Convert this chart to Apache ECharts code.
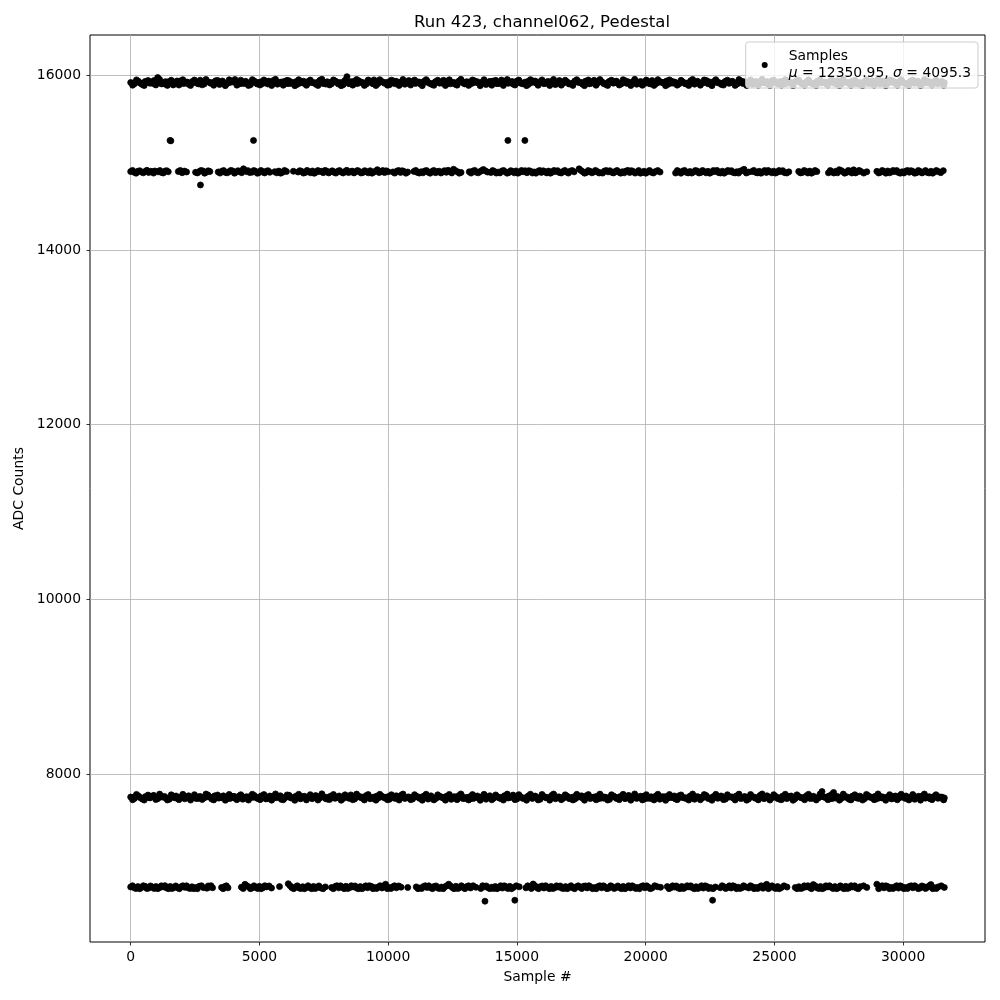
<!DOCTYPE html>
<html>
<head>
<meta charset="utf-8">
<script src="https://cdn.jsdelivr.net/npm/echarts@6/dist/echarts.min.js"></script>
<style>html,body{margin:0;padding:0;background:#fff}#c{width:1000px;height:1000px}</style>
</head>
<body>
<div id="c"></div>
<script>
const titleText = 'Run 423, channel062, Pedestal';
const xTicks = [0, 5000, 10000, 15000, 20000, 25000, 30000];
const yTicks = [8000, 10000, 12000, 14000, 16000];

const topBand = [[0,15918],[150,15905],[300,15932],[450,15896],[600,15925],[750,15910],[900,15940],[1050,15975],[1200,15902],[1350,15928],[1500,15915],[1650,15890],[1800,15936],[1950,15908],[2100,15922],[2250,15898],[2400,15930],[2550,15912],[2700,15945],[2850,15900],[3000,15926],[3150,15914],[3300,15938],[3450,15895],[3600,15920],[3750,15907],[3900,15933],[4050,15952],[4200,15901],[4350,15924],[4500,15911],[4650,15893],[4800,15935],[4950,15918],[5100,15904],[5250,15929],[5400,15916],[5550,15942],[5700,15899],[5850,15923],[6000,15909],[6150,15937],[6300,15913],[6450,15894],[6600,15927],[6750,15906],[6900,15931],[7050,15919],[7200,15897],[7350,15944],[7500,15912],[7650,15925],[7800,15903],[7950,15934],[8100,15917],[8250,15892],[8400,15985],[8550,15928],[8700,15908],[8850,15939],[9000,15914],[9150,15900],[9300,15926],[9450,15948],[9600,15905],[9750,15930],[9900,15916],[10050,15893],[10200,15936],[10350,15911],[10500,15924],[10650,15898],[10800,15940],[10950,15913],[11100,15927],[11250,15902],[11400,15933],[11550,15918],[11700,15896],[11850,15929],[12000,15910],[12150,15943],[12300,15906],[12450,15921],[12600,15899],[12750,15935],[12900,15915],[13050,15928],[13200,15901],[13350,15938],[13500,15912],[13650,15923],[13800,15895],[13950,15932],[14100,15917],[14250,15907],[14400,15946],[14550,15914],[14700,15926],[14850,15900],[15000,15934],[15150,15909],[15300,15921],[15450,15897],[15600,15937],[15750,15913],[15900,15928],[16050,15904],[16200,15931],[16350,15916],[16500,15894],[16650,15941],[16800,15910],[16950,15925],[17100,15903],[17250,15935],[17400,15918],[17550,15899],[17700,15929],[17850,15908],[18000,15944],[18150,15915],[18300,15927],[18450,15896],[18600,15933],[18750,15911],[18900,15922],[19050,15902],[19200,15939],[19350,15914],[19500,15926],[19650,15898],[19800,15930],[19950,15907],[20100,15920],[20250,15940],[20400,15905],[20550,15928],[20700,15913],[20850,15895],[21000,15934],[21150,15917],[21300,15903],[21450,15925],[21600,15910],[21750,15937],[21900,15899],[22050,15923],[22200,15912],[22350,15942],[22500,15906],[22650,15929],[22800,15916],[22950,15894],[23100,15932],[23250,15909],[23400,15924],[23550,15901],[23700,15936],[23850,15914],[24000,15927],[24150,15897],[24300,15931],[24450,15911],[24600,15921],[24750,15904],[24900,15938],[25050,15915],[25200,15928],[25350,15900],[25500,15933],[25650,15908],[25800,15922],[25950,15945],[26100,15903],[26250,15926],[26400,15913],[26550,15896],[26700,15935],[26850,15917],[27000,15905],[27150,15929],[27300,15912],[27450,15939],[27600,15898],[27750,15924],[27900,15910],[28050,15932],[28200,15916],[28350,15893],[28500,15927],[28650,15906],[28800,15937],[28950,15914],[29100,15900],[29250,15925],[29400,15911],[29550,15941],[29700,15903],[29850,15928],[30000,15915],[30150,15897],[30300,15934],[30450,15909],[30600,15922],[30750,15901],[30900,15936],[31050,15913],[31200,15926],[31350,15904],[31500,15930],[31600,15915]];

const topBand2 = [[75,15887],[225,15948],[375,15912],[525,15883],[675,15941],[825,15920],[975,15890],[1125,15952],[1275,15915],[1425,15885],[1575,15944],[1725,15909],[1875,15889],[2025,15950],[2175,15922],[2325,15884],[2475,15946],[2625,15903],[2775,15891],[2925,15953],[3075,15918],[3225,15886],[3375,15942],[3525,15911],[3675,15882],[3825,15949],[3975,15924],[4125,15888],[4275,15945],[4425,15906],[4575,15884],[4725,15951],[4875,15916],[5025,15889],[5175,15947],[5325,15901],[5475,15883],[5625,15954],[5775,15919],[5925,15887],[6075,15943],[6225,15908],[6375,15881],[6525,15950],[6675,15921],[6825,15886],[6975,15946],[7125,15912],[7275,15884],[7425,15955],[7575,15900],[7725,15890],[7875,15948],[8025,15917],[8175,15882],[8325,15944],[8475,15905],[8625,15888],[8775,15952],[8925,15923],[9075,15885],[9225,15947],[9375,15910],[9525,15883],[9675,15950],[9825,15919],[9975,15887],[10125,15945],[10275,15903],[10425,15884],[10575,15953],[10725,15914],[10875,15889],[11025,15946],[11175,15920],[11325,15882],[11475,15951],[11625,15907],[11775,15886],[11925,15944],[12075,15918],[12225,15883],[12375,15949],[12525,15911],[12675,15888],[12825,15954],[12975,15902],[13125,15885],[13275,15947],[13425,15921],[13575,15881],[13725,15950],[13875,15913],[14025,15887],[14175,15943],[14325,15906],[14475,15884],[14625,15952],[14775,15917],[14925,15889],[15075,15946],[15225,15904],[15375,15882],[15525,15951],[15675,15922],[15825,15886],[15975,15948],[16125,15910],[16275,15883],[16425,15953],[16575,15915],[16725,15888],[16875,15944],[17025,15901],[17175,15885],[17325,15950],[17475,15920],[17625,15882],[17775,15947],[17925,15912],[18075,15887],[18225,15952],[18375,15905],[18525,15884],[18675,15945],[18825,15918],[18975,15889],[19125,15950],[19275,15908],[19425,15883],[19575,15954],[19725,15916],[19875,15886],[20025,15946],[20175,15902],[20325,15885],[20475,15951],[20625,15921],[20775,15881],[20925,15948],[21075,15911],[21225,15888],[21375,15943],[21525,15906],[21675,15884],[21825,15953],[21975,15919],[22125,15887],[22275,15947],[22425,15903],[22575,15882],[22725,15950],[22875,15914],[23025,15889],[23175,15945],[23325,15920],[23475,15885],[23625,15952],[23775,15907],[23925,15883],[24075,15948],[24225,15917],[24375,15886],[24525,15954],[24675,15910],[24825,15884],[24975,15946],[25125,15901],[25275,15888],[25425,15951],[25575,15922],[25725,15882],[25875,15944],[26025,15913],[26175,15887],[26325,15950],[26475,15905],[26625,15885],[26775,15953],[26925,15918],[27075,15889],[27225,15947],[27375,15908],[27525,15883],[27675,15952],[27825,15920],[27975,15886],[28125,15945],[28275,15902],[28425,15884],[28575,15949],[28725,15915],[28875,15888],[29025,15954],[29175,15909],[29325,15882],[29475,15946],[29625,15921],[29775,15887],[29925,15951],[30075,15904],[30225,15885],[30375,15948],[30525,15916],[30675,15883],[30825,15953],[30975,15911],[31125,15889],[31275,15945],[31425,15919],[31575,15886]];

const topBand3 = [[112,15912],[262,15925],[412,15905],[562,15930],[712,15918],[862,15908],[1012,15933],[1162,15915],[1312,15902],[1462,15927],[1612,15920],[1762,15910],[1912,15935],[2062,15906],[2212,15922],[2362,15914],[2512,15929],[2662,15903],[2812,15917],[2962,15931],[3112,15909],[3262,15924],[3412,15913],[3562,15936],[3712,15904],[3862,15919],[4012,15928],[4162,15911],[4312,15907],[4462,15932],[4612,15916],[4762,15923],[4912,15901],[5062,15926],[5212,15914],[5362,15934],[5512,15908],[5662,15921],[5812,15912],[5962,15930],[6112,15905],[6262,15918],[6412,15927],[6562,15910],[6712,15933],[6862,15903],[7012,15920],[7162,15915],[7312,15929],[7462,15907],[7612,15924],[7762,15913],[7912,15935],[8062,15902],[8212,15919],[8362,15926],[8512,15911],[8662,15931],[8812,15906],[8962,15922],[9112,15916],[9262,15934],[9412,15904],[9562,15918],[9712,15928],[9862,15909],[10012,15925],[10162,15914],[10312,15932],[10462,15901],[10612,15921],[10762,15912],[10912,15929],[11062,15907],[11212,15923],[11362,15917],[11512,15935],[11662,15905],[11812,15920],[11962,15927],[12112,15910],[12262,15931],[12412,15903],[12562,15919],[12712,15914],[12862,15933],[13012,15908],[13162,15924],[13312,15916],[13462,15928],[13612,15902],[13762,15921],[13912,15911],[14062,15934],[14212,15906],[14362,15918],[14512,15926],[14662,15909],[14812,15930],[14962,15913],[15112,15922],[15262,15904],[15412,15929],[15562,15917],[15712,15935],[15862,15907],[16012,15920],[16162,15912],[16312,15927],[16462,15901],[16612,15924],[16762,15915],[16912,15932],[17062,15905],[17212,15919],[17362,15928],[17512,15910],[17662,15933],[17812,15903],[17962,15921],[18112,15914],[18262,15930],[18412,15908],[18562,15925],[18712,15916],[18862,15934],[19012,15902],[19162,15918],[19312,15927],[19462,15911],[19612,15931],[19762,15906],[19912,15923],[20062,15913],[20212,15929],[20362,15904],[20512,15920],[20662,15917],[20812,15935],[20962,15909],[21112,15924],[21262,15912],[21412,15928],[21562,15901],[21712,15921],[21862,15915],[22012,15932],[22162,15907],[22312,15919],[22462,15926],[22612,15910],[22762,15930],[22912,15905],[23062,15922],[23212,15914],[23362,15933],[23512,15903],[23662,15918],[23812,15927],[23962,15911],[24112,15934],[24262,15908],[24412,15925],[24562,15916],[24712,15929],[24862,15902],[25012,15920],[25162,15913],[25312,15931],[25462,15906],[25612,15923],[25762,15917],[25912,15935],[26062,15904],[26212,15919],[26362,15928],[26512,15909],[26662,15932],[26812,15912],[26962,15924],[27112,15915],[27262,15930],[27412,15901],[27562,15921],[27712,15926],[27862,15910],[28012,15933],[28162,15905],[28312,15918],[28462,15914],[28612,15929],[28762,15907],[28912,15922],[29062,15917],[29212,15934],[29362,15903],[29512,15920],[29662,15927],[29812,15911],[29962,15931],[30112,15908],[30262,15924],[30412,15913],[30562,15935],[30712,15902],[30862,15919],[31012,15928],[31162,15909],[31312,15930],[31462,15916]];

const upperBand = [[0,14898],[140,14890],[280,14902],[420,14893],[560,14900],[700,14888],[840,14897],[940,14905],[1070,14895],[1200,14888],[1330,14903],[1460,14896],[1850,14899],[2000,14885],[2170,14894],[2520,14890],[2660,14898],[2800,14906],[2940,14892],[3075,14899],[3400,14894],[3540,14902],[3680,14889],[3820,14897],[3960,14905],[4100,14893],[4240,14900],[4380,14930],[4500,14898],[4625,14887],[4715,14892],[4850,14901],[4990,14888],[5130,14896],[5270,14903],[5400,14890],[5595,14897],[5750,14904],[5900,14891],[6050,14899],[6320,14902],[6500,14893],[6640,14900],[6780,14888],[6920,14896],[7060,14905],[7200,14891],[7340,14899],[7480,14886],[7620,14903],[7760,14895],[7900,14890],[8040,14901],[8180,14893],[8320,14898],[8460,14887],[8600,14904],[8740,14896],[8880,14900],[9020,14889],[9160,14897],[9300,14908],[9440,14892],[9580,14920],[9720,14899],[9860,14887],[9990,14896],[10180,14894],[10330,14902],[10480,14889],[10620,14898],[10760,14893],[11000,14900],[11140,14888],[11280,14896],[11420,14905],[11560,14891],[11700,14899],[11840,14886],[11980,14903],[12120,14895],[12260,14890],[12400,14901],[12540,14925],[12690,14897],[12830,14889],[13150,14896],[13290,14904],[13430,14890],[13570,14898],[13700,14922],[13860,14893],[13990,14887],[14130,14899],[14270,14892],[14410,14903],[14550,14895],[14690,14888],[14830,14900],[14970,14906],[15110,14891],[15250,14897],[15390,14885],[15530,14902],[15670,14894],[15810,14899],[15950,14889],[16090,14896],[16230,14904],[16370,14892],[16510,14900],[16650,14887],[16790,14898],[16930,14893],[17070,14903],[17223,14895],[17416,14930],[17560,14896],[17700,14889],[17840,14901],[17980,14893],[18120,14898],[18260,14886],[18400,14904],[18540,14895],[18680,14890],[18820,14900],[18960,14892],[19100,14897],[19240,14905],[19380,14888],[19520,14899],[19660,14893],[19800,14880],[19940,14902],[20080,14895],[20220,14890],[20380,14898],[20560,14893],[21163,14882],[21300,14896],[21440,14903],[21580,14890],[21720,14899],[21860,14893],[22000,14905],[22140,14888],[22280,14897],[22420,14901],[22560,14891],[22700,14899],[22840,14886],[22980,14903],[23120,14894],[23260,14900],[23400,14889],[23540,14897],[23680,14904],[23820,14925],[24000,14893],[24135,14899],[24270,14890],[24410,14902],[24550,14894],[24690,14888],[24830,14897],[24970,14903],[25110,14891],[25250,14899],[25400,14886],[25560,14895],[25945,14900],[26090,14889],[26230,14897],[26370,14904],[26510,14892],[26650,14898],[27100,14884],[27240,14895],[27380,14901],[27520,14920],[27660,14897],[27800,14889],[27940,14903],[28080,14918],[28220,14894],[28360,14900],[28590,14896],[28980,14901],[29120,14890],[29260,14897],[29400,14905],[29540,14893],[29680,14899],[29820,14887],[29960,14896],[30100,14903],[30240,14891],[30380,14898],[30520,14886],[30660,14900],[30800,14894],[30940,14889],[31080,14902],[31220,14895],[31360,14899],[31560,14909]];

const upperBand2 = [[70,14912],[210,14880],[350,14908],[490,14884],[630,14913],[770,14902],[890,14881],[1135,14910],[1265,14882],[1395,14909],[1925,14911],[2085,14904],[2590,14883],[2730,14911],[2870,14880],[3010,14907],[3470,14881],[3610,14910],[3750,14884],[3890,14912],[4030,14880],[4170,14908],[4310,14885],[4440,14913],[4560,14909],[4780,14910],[4920,14879],[5060,14911],[5200,14883],[5335,14908],[5670,14884],[5825,14880],[5975,14912],[6570,14909],[6710,14881],[6850,14912],[6990,14884],[7130,14879],[7270,14910],[7410,14902],[7550,14912],[7690,14883],[7830,14907],[7970,14881],[8110,14910],[8250,14882],[8390,14913],[8530,14896],[8670,14883],[8810,14911],[8950,14882],[9090,14909],[9230,14884],[9370,14880],[9510,14903],[9650,14887],[9790,14910],[9925,14907],[10255,14881],[10405,14911],[10550,14908],[10690,14880],[11070,14912],[11210,14881],[11350,14884],[11490,14910],[11630,14880],[11770,14911],[11910,14898],[12050,14882],[12190,14909],[12330,14913],[12470,14883],[12615,14908],[12760,14880],[13220,14881],[13360,14912],[13500,14884],[13635,14910],[13780,14905],[14060,14910],[14200,14881],[14340,14883],[14480,14911],[14620,14880],[14760,14909],[14900,14884],[15040,14880],[15180,14911],[15320,14908],[15460,14909],[15600,14882],[15740,14880],[15880,14911],[16020,14907],[16160,14883],[16300,14880],[16440,14911],[16580,14909],[16720,14882],[16860,14912],[17000,14881],[17145,14910],[17490,14911],[17630,14880],[17770,14910],[17910,14884],[18050,14912],[18190,14882],[18330,14881],[18470,14910],[18610,14908],[18750,14883],[18890,14911],[19030,14880],[19170,14884],[19310,14912],[19450,14909],[19590,14881],[19730,14910],[19870,14888],[20010,14880],[20150,14911],[20300,14882],[20470,14910],[21230,14910],[21370,14880],[21510,14912],[21650,14883],[21790,14881],[21930,14910],[22070,14882],[22210,14911],[22350,14884],[22490,14880],[22630,14910],[22770,14912],[22910,14882],[23050,14880],[23190,14911],[23330,14909],[23470,14883],[23610,14881],[23750,14910],[23910,14882],[24200,14912],[24340,14883],[24480,14880],[24620,14910],[24760,14911],[24900,14884],[25040,14881],[25180,14910],[25325,14909],[25480,14882],[26015,14883],[26160,14911],[26300,14882],[26440,14880],[26580,14911],[27170,14910],[27310,14882],[27450,14884],[27590,14910],[27730,14880],[27870,14911],[28010,14882],[28150,14883],[28290,14912],[28470,14881],[29050,14882],[29190,14911],[29330,14880],[29470,14884],[29610,14911],[29750,14910],[29890,14880],[30030,14882],[30170,14911],[30310,14909],[30450,14880],[30590,14911],[30730,14883],[30870,14910],[31010,14882],[31150,14880],[31290,14911],[31460,14886]];

const midBand = [[0,7738],[150,7722],[300,7750],[450,7715],[600,7741],[750,7728],[900,7756],[1050,7719],[1200,7744],[1350,7731],[1500,7712],[1650,7748],[1800,7725],[1950,7739],[2100,7717],[2250,7752],[2400,7733],[2550,7720],[2700,7745],[2850,7727],[3000,7760],[3150,7714],[3300,7740],[3450,7729],[3600,7751],[3750,7718],[3900,7736],[4050,7723],[4200,7747],[4350,7713],[4500,7742],[4650,7730],[4800,7755],[4950,7721],[5100,7737],[5250,7716],[5400,7749],[5550,7726],[5700,7743],[5850,7711],[6000,7734],[6150,7758],[6300,7724],[6450,7740],[6600,7717],[6750,7746],[6900,7732],[7050,7719],[7200,7753],[7350,7728],[7500,7738],[7650,7713],[7800,7744],[7950,7725],[8100,7750],[8250,7720],[8400,7736],[8550,7762],[8700,7715],[8850,7741],[9000,7729],[9150,7754],[9300,7718],[9450,7737],[9600,7723],[9750,7748],[9900,7731],[10050,7712],[10200,7745],[10350,7727],[10500,7757],[10650,7721],[10800,7739],[10950,7716],[11100,7743],[11250,7730],[11400,7750],[11550,7714],[11700,7735],[11850,7722],[12000,7747],[12150,7726],[12300,7741],[12450,7711],[12600,7738],[12750,7755],[12900,7720],[13050,7733],[13200,7717],[13350,7749],[13500,7728],[13650,7742],[13800,7713],[13950,7752],[14100,7724],[14250,7739],[14400,7719],[14550,7746],[14700,7732],[14850,7760],[15000,7715],[15150,7740],[15300,7727],[15450,7751],[15600,7721],[15750,7736],[15900,7712],[16050,7744],[16200,7729],[16350,7756],[16500,7718],[16650,7738],[16800,7723],[16950,7748],[17100,7731],[17250,7714],[17400,7743],[17550,7726],[17700,7753],[17850,7720],[18000,7737],[18150,7716],[18300,7745],[18450,7730],[18600,7711],[18750,7749],[18900,7725],[19050,7740],[19200,7719],[19350,7754],[19500,7733],[19650,7722],[19800,7747],[19950,7715],[20100,7736],[20250,7728],[20400,7750],[20550,7713],[20700,7742],[20850,7724],[21000,7739],[21150,7717],[21300,7752],[21450,7731],[21600,7720],[21750,7746],[21900,7712],[22050,7735],[22200,7727],[22350,7755],[22500,7718],[22650,7741],[22800,7723],[22950,7748],[23100,7714],[23250,7737],[23400,7729],[23550,7751],[23700,7721],[23850,7743],[24000,7716],[24150,7738],[24300,7726],[24450,7757],[24600,7719],[24750,7740],[24900,7730],[25050,7745],[25200,7713],[25350,7736],[25500,7722],[25650,7750],[25800,7717],[25950,7742],[26100,7728],[26250,7753],[26400,7720],[26550,7739],[26700,7725],[26850,7800],[27000,7733],[27150,7715],[27300,7790],[27450,7744],[27600,7721],[27750,7736],[27900,7712],[28050,7749],[28200,7727],[28350,7741],[28500,7718],[28650,7752],[28800,7731],[28950,7714],[29100,7746],[29250,7724],[29400,7738],[29550,7716],[29700,7750],[29850,7729],[30000,7743],[30150,7720],[30300,7735],[30450,7711],[30600,7747],[30750,7726],[30900,7740],[31050,7717],[31200,7744],[31350,7723],[31500,7737],[31600,7728]];

const midBand2 = [[75,7706],[225,7768],[375,7731],[525,7703],[675,7760],[825,7740],[975,7709],[1125,7771],[1275,7734],[1425,7704],[1575,7763],[1725,7728],[1875,7708],[2025,7769],[2175,7741],[2325,7703],[2475,7765],[2625,7722],[2775,7710],[2925,7772],[3075,7737],[3225,7705],[3375,7761],[3525,7730],[3675,7701],[3825,7768],[3975,7743],[4125,7707],[4275,7764],[4425,7725],[4575,7703],[4725,7770],[4875,7735],[5025,7708],[5175,7766],[5325,7720],[5475,7702],[5625,7773],[5775,7738],[5925,7706],[6075,7762],[6225,7727],[6375,7700],[6525,7769],[6675,7740],[6825,7705],[6975,7765],[7125,7731],[7275,7703],[7425,7774],[7575,7719],[7725,7709],[7875,7767],[8025,7736],[8175,7701],[8325,7763],[8475,7724],[8625,7707],[8775,7771],[8925,7742],[9075,7704],[9225,7766],[9375,7729],[9525,7702],[9675,7769],[9825,7738],[9975,7706],[10125,7764],[10275,7722],[10425,7703],[10575,7772],[10725,7733],[10875,7708],[11025,7765],[11175,7739],[11325,7701],[11475,7770],[11625,7726],[11775,7705],[11925,7763],[12075,7737],[12225,7702],[12375,7768],[12525,7730],[12675,7707],[12825,7773],[12975,7721],[13125,7704],[13275,7766],[13425,7740],[13575,7700],[13725,7769],[13875,7732],[14025,7706],[14175,7762],[14325,7725],[14475,7703],[14625,7771],[14775,7736],[14925,7708],[15075,7765],[15225,7723],[15375,7701],[15525,7770],[15675,7741],[15825,7705],[15975,7767],[16125,7729],[16275,7702],[16425,7772],[16575,7734],[16725,7707],[16875,7763],[17025,7720],[17175,7704],[17325,7769],[17475,7739],[17625,7701],[17775,7766],[17925,7731],[18075,7706],[18225,7771],[18375,7724],[18525,7703],[18675,7764],[18825,7737],[18975,7708],[19125,7769],[19275,7727],[19425,7702],[19575,7773],[19725,7735],[19875,7705],[20025,7765],[20175,7721],[20325,7704],[20475,7770],[20625,7740],[20775,7700],[20925,7767],[21075,7730],[21225,7707],[21375,7762],[21525,7725],[21675,7703],[21825,7772],[21975,7738],[22125,7706],[22275,7766],[22425,7722],[22575,7701],[22725,7769],[22875,7733],[23025,7708],[23175,7764],[23325,7739],[23475,7704],[23625,7771],[23775,7726],[23925,7702],[24075,7767],[24225,7736],[24375,7705],[24525,7773],[24675,7729],[24825,7703],[24975,7765],[25125,7720],[25275,7707],[25425,7770],[25575,7741],[25725,7701],[25875,7763],[26025,7732],[26175,7706],[26325,7769],[26475,7724],[26625,7704],[26775,7772],[26925,7737],[27075,7708],[27225,7766],[27375,7727],[27525,7702],[27675,7771],[27825,7739],[27975,7705],[28125,7764],[28275,7721],[28425,7703],[28575,7768],[28725,7734],[28875,7707],[29025,7773],[29175,7728],[29325,7701],[29475,7765],[29625,7740],[29775,7706],[29925,7770],[30075,7723],[30225,7704],[30375,7767],[30525,7735],[30675,7702],[30825,7772],[30975,7730],[31125,7708],[31275,7764],[31425,7738],[31575,7705]];

const midBand3 = [[112,7735],[262,7748],[412,7724],[562,7741],[712,7730],[862,7752],[1012,7727],[1162,7738],[1312,7745],[1462,7722],[1612,7736],[1762,7750],[1912,7729],[2062,7743],[2212,7733],[2362,7725],[2512,7747],[2662,7739],[2812,7723],[2962,7740],[3112,7731],[3262,7751],[3412,7726],[3562,7744],[3712,7737],[3862,7722],[4012,7746],[4162,7732],[4312,7749],[4462,7728],[4612,7741],[4762,7734],[4912,7724],[5062,7750],[5212,7738],[5362,7727],[5512,7745],[5662,7730],[5812,7752],[5962,7723],[6112,7739],[6262,7733],[6412,7747],[6562,7725],[6712,7742],[6862,7736],[7012,7729],[7162,7751],[7312,7722],[7462,7744],[7612,7735],[7762,7748],[7912,7726],[8062,7740],[8212,7731],[8362,7746],[8512,7724],[8662,7737],[8812,7750],[8962,7728],[9112,7743],[9262,7734],[9412,7722],[9562,7749],[9712,7739],[9862,7727],[10012,7745],[10162,7732],[10312,7752],[10462,7725],[10612,7741],[10762,7736],[10912,7729],[11062,7747],[11212,7723],[11362,7744],[11512,7733],[11662,7751],[11812,7726],[11962,7738],[12112,7730],[12262,7746],[12412,7724],[12562,7742],[12712,7735],[12862,7749],[13012,7728],[13162,7740],[13312,7722],[13462,7750],[13612,7737],[13762,7731],[13912,7745],[14062,7725],[14212,7743],[14362,7734],[14512,7752],[14662,7727],[14812,7739],[14962,7730],[15112,7747],[15262,7723],[15412,7741],[15562,7736],[15712,7749],[15862,7726],[16012,7744],[16162,7732],[16312,7722],[16462,7750],[16612,7738],[16762,7729],[16912,7746],[17062,7724],[17212,7740],[17362,7735],[17512,7751],[17662,7728],[17812,7742],[17962,7733],[18112,7748],[18262,7725],[18412,7737],[18562,7731],[18712,7745],[18862,7722],[19012,7743],[19162,7736],[19312,7752],[19462,7727],[19612,7739],[19762,7730],[19912,7747],[20062,7724],[20212,7741],[20362,7734],[20512,7749],[20662,7726],[20812,7744],[20962,7732],[21112,7750],[21262,7723],[21412,7738],[21562,7729],[21712,7746],[21862,7725],[22012,7742],[22162,7735],[22312,7751],[22462,7728],[22612,7740],[22762,7733],[22912,7748],[23062,7722],[23212,7743],[23362,7736],[23512,7749],[23662,7727],[23812,7739],[23962,7731],[24112,7745],[24262,7724],[24412,7741],[24562,7734],[24712,7752],[24862,7726],[25012,7737],[25162,7730],[25312,7747],[25462,7723],[25612,7744],[25762,7735],[25912,7750],[26062,7728],[26212,7740],[26362,7732],[26512,7746],[26662,7725],[26812,7742],[26962,7736],[27112,7749],[27262,7722],[27412,7738],[27562,7729],[27712,7751],[27862,7727],[28012,7743],[28162,7733],[28312,7748],[28462,7724],[28612,7741],[28762,7735],[28912,7746],[29062,7726],[29212,7739],[29362,7731],[29512,7752],[29662,7723],[29812,7744],[29962,7737],[30112,7750],[30262,7728],[30412,7740],[30562,7732],[30712,7747],[30862,7725],[31012,7742],[31162,7734],[31312,7749],[31462,7727]];

const lowBand = [[0,6708],[140,6698],[280,6712],[420,6701],[560,6715],[700,6695],[840,6706],[980,6713],[1120,6700],[1260,6709],[1400,6696],[1540,6714],[1680,6703],[1820,6699],[1960,6711],[2100,6704],[2240,6697],[2380,6710],[2520,6702],[2660,6716],[2830,6700],[2960,6694],[3060,6707],[3180,6699],[3530,6703],[3650,6712],[3780,6698],[4300,6706],[4440,6738],[4580,6710],[4720,6697],[4860,6704],[5000,6715],[5140,6700],[5280,6709],[5470,6696],[5780,6712],[6120,6745],[6260,6700],[6400,6708],[6540,6696],[6680,6711],[6820,6703],[6960,6699],[7100,6714],[7240,6705],[7380,6697],[7560,6709],[7800,6702],[7940,6713],[8080,6698],[8220,6706],[8360,6716],[8500,6700],[8640,6709],[8780,6695],[8920,6712],[9060,6704],[9200,6699],[9340,6715],[9480,6701],[9620,6708],[9760,6696],[9900,6740],[10040,6703],[10180,6711],[10320,6698],[10500,6706],[10760,6702],[11090,6709],[11230,6697],[11370,6712],[11510,6703],[11650,6700],[11790,6714],[11930,6695],[12070,6707],[12210,6711],[12350,6740],[12490,6702],[12630,6716],[12770,6699],[12910,6706],[13050,6712],[13200,6697],[13410,6704],[13600,6690],[13740,6710],[13880,6699],[14020,6706],[14160,6713],[14300,6700],[14440,6696],[14580,6709],[14720,6715],[14860,6702],[15090,6710],[15350,6698],[15490,6708],[15630,6742],[15770,6701],[15910,6711],[16050,6696],[16190,6705],[16330,6714],[16470,6700],[16610,6707],[16750,6694],[16890,6712],[17030,6703],[17170,6699],[17310,6710],[17450,6704],[17590,6716],[17730,6697],[17870,6706],[18010,6701],[18150,6713],[18290,6698],[18430,6708],[18570,6695],[18710,6711],[18850,6703],[18990,6700],[19130,6714],[19270,6706],[19410,6697],[19550,6709],[19690,6702],[19830,6712],[19970,6699],[20110,6705],[20250,6696],[20460,6710],[20580,6704],[20840,6712],[20980,6700],[21120,6707],[21260,6697],[21400,6714],[21540,6703],[21680,6709],[21820,6698],[21960,6711],[22100,6705],[22240,6695],[22380,6712],[22520,6701],[22710,6708],[22900,6699],[23040,6710],[23180,6703],[23320,6696],[23460,6712],[23600,6705],[23740,6700],[23870,6709],[24000,6697],[24140,6711],[24280,6703],[24420,6708],[24560,6694],[24700,6738],[24840,6706],[24980,6701],[25120,6713],[25260,6699],[25490,6707],[25810,6702],[25950,6711],[26090,6696],[26230,6708],[26370,6703],[26510,6735],[26650,6700],[26790,6713],[26930,6697],[27070,6709],[27210,6704],[27350,6712],[27490,6698],[27630,6706],[27770,6715],[27910,6700],[28050,6708],[28190,6695],[28330,6711],[28590,6703],[28980,6740],[29120,6706],[29260,6698],[29400,6712],[29540,6703],[29680,6709],[29820,6695],[29960,6710],[30100,6702],[30240,6714],[30380,6699],[30520,6707],[30660,6696],[30800,6711],[30940,6704],[31080,6735],[31220,6700],[31360,6709],[31600,6703]];

const lowBand2 = [[70,6722],[210,6690],[350,6688],[490,6722],[630,6690],[770,6720],[910,6691],[1050,6689],[1190,6721],[1330,6723],[1470,6689],[1610,6690],[1750,6720],[1890,6688],[2030,6722],[2170,6721],[2310,6690],[2450,6689],[2590,6688],[2745,6722],[3010,6720],[3120,6722],[3590,6689],[3715,6721],[4370,6690],[4510,6722],[4650,6689],[4790,6721],[4930,6690],[5070,6688],[5210,6722],[5375,6720],[6190,6722],[6330,6689],[6470,6721],[6610,6690],[6750,6688],[6890,6722],[7030,6689],[7170,6690],[7310,6720],[7470,6688],[7870,6689],[8010,6722],[8150,6721],[8290,6689],[8430,6690],[8570,6722],[8710,6720],[8850,6688],[8990,6689],[9130,6721],[9270,6722],[9410,6689],[9550,6690],[9690,6722],[9830,6720],[9970,6689],[10110,6690],[10250,6722],[10410,6720],[11160,6689],[11300,6690],[11440,6722],[11580,6721],[11720,6689],[11860,6720],[12000,6690],[12140,6689],[12280,6722],[12420,6720],[12560,6689],[12700,6690],[12840,6722],[12980,6689],[13125,6721],[13300,6722],[13670,6722],[13810,6720],[13950,6689],[14090,6690],[14230,6688],[14370,6722],[14510,6721],[14650,6690],[14790,6688],[14975,6721],[15420,6721],[15560,6690],[15700,6722],[15840,6689],[15980,6720],[16120,6722],[16260,6689],[16400,6690],[16540,6721],[16680,6720],[16820,6690],[16960,6689],[17100,6722],[17240,6688],[17380,6721],[17520,6690],[17660,6720],[17800,6722],[17940,6689],[18080,6688],[18220,6722],[18360,6721],[18500,6689],[18640,6722],[18780,6690],[18920,6720],[19060,6689],[19200,6688],[19340,6722],[19480,6721],[19620,6690],[19760,6688],[19900,6722],[20040,6721],[20180,6689],[20355,6722],[20910,6689],[21050,6721],[21190,6720],[21330,6689],[21470,6690],[21610,6722],[21750,6721],[21890,6688],[22030,6690],[22170,6722],[22310,6721],[22450,6690],[22615,6689],[22970,6722],[23110,6690],[23250,6721],[23390,6722],[23530,6689],[23670,6690],[23805,6722],[24070,6722],[24210,6689],[24350,6690],[24490,6721],[24630,6722],[24770,6689],[24910,6721],[25050,6690],[25190,6688],[25375,6721],[25880,6689],[26020,6690],[26160,6721],[26300,6722],[26440,6689],[26580,6721],[26720,6690],[26860,6688],[27000,6721],[27140,6722],[27280,6690],[27420,6689],[27560,6721],[27700,6688],[27840,6690],[27980,6722],[28120,6721],[28260,6689],[28460,6721],[29050,6689],[29190,6722],[29330,6721],[29470,6689],[29610,6690],[29750,6722],[29890,6721],[30030,6689],[30170,6690],[30310,6721],[30450,6722],[30590,6689],[30730,6720],[30870,6690],[31010,6721],[31150,6689],[31290,6690],[31480,6721]];

const outliers = [[1530,15255],[1560,15250],[4770,15255],[14650,15255],[15310,15255],[2710,14745],[13760,6545],[14920,6556],[22600,6556]];

const seriesName = 'Samples';
const statsLine = '{it|μ} = 12350.95, {it|σ} = 4095.3';

const allPoints = topBand.concat(topBand2, topBand3, upperBand, upperBand2, midBand, midBand2, midBand3, lowBand, lowBand2, outliers);

const FONT = 'DejaVu Sans';
const chart = echarts.init(document.getElementById('c'), null, {renderer: 'canvas'});
chart.setOption({
  animation: false,
  backgroundColor: '#ffffff',
  title: {
    text: titleText, left: 537, top: 9, textAlign: 'center',
    textStyle: {fontFamily: FONT, fontSize: 16.5, fontWeight: 'normal', color: '#000'}
  },
  grid: {left: 90, right: 15, top: 35, bottom: 58, show: true, borderColor: '#000', borderWidth: 1, backgroundColor: 'transparent'},
  legend: {
    right: 22, top: 42,
    data: [{name: seriesName, icon: 'circle', itemStyle: {borderWidth: 0}}],
    itemWidth: 38, itemHeight: 6,
    itemStyle: {borderWidth: 0},
    padding: [6, 7, 6, 16],
    backgroundColor: 'rgba(255,255,255,0.8)',
    borderColor: '#cccccc', borderWidth: 1, borderRadius: 3,
    formatter: function (name) { return name + '\n' + statsLine; },
    textStyle: {fontFamily: FONT, fontSize: 13.9, color: '#000', lineHeight: 17,
      rich: {it: {fontFamily: FONT, fontStyle: 'italic', fontSize: 13.9, color: '#000', lineHeight: 17}}},
    z: 10
  },
  xAxis: {
    type: 'value', min: -1580, max: 33180,
    name: 'Sample #', nameLocation: 'middle', nameGap: 28,
    nameTextStyle: {fontFamily: FONT, fontSize: 13.9, color: '#000'},
    axisLine: {show: false, onZero: false},
    axisTick: {show: true, inside: false, length: 3.5, customValues: xTicks, lineStyle: {color: '#000', width: 0.8}},
    axisLabel: {customValues: xTicks, margin: 8, fontFamily: FONT, fontSize: 13.9, color: '#000', formatter: function (v) { return String(v); }},
    splitLine: {show: true, lineStyle: {color: '#b0b0b0', width: 0.8}}
  },
  yAxis: {
    type: 'value', min: 6078, max: 16462,
    name: 'ADC Counts', nameLocation: 'middle', nameGap: 56,
    nameTextStyle: {fontFamily: FONT, fontSize: 13.9, color: '#000'},
    axisLine: {show: false, onZero: false},
    axisTick: {show: true, inside: false, length: 3.5, customValues: yTicks, lineStyle: {color: '#000', width: 0.8}},
    axisLabel: {customValues: yTicks, margin: 9, fontFamily: FONT, fontSize: 13.9, color: '#000', formatter: function (v) { return String(v); }},
    splitLine: {show: true, lineStyle: {color: '#b0b0b0', width: 0.8}}
  },
  series: [{
    name: seriesName, type: 'scatter', data: allPoints,
    symbol: 'circle', symbolSize: 6, progressive: 0, large: false,
    itemStyle: {color: '#000000', opacity: 1, borderColor: '#000000', borderWidth: 0.8},
    z: 2
  }]
});
</script>
</body>
</html>
